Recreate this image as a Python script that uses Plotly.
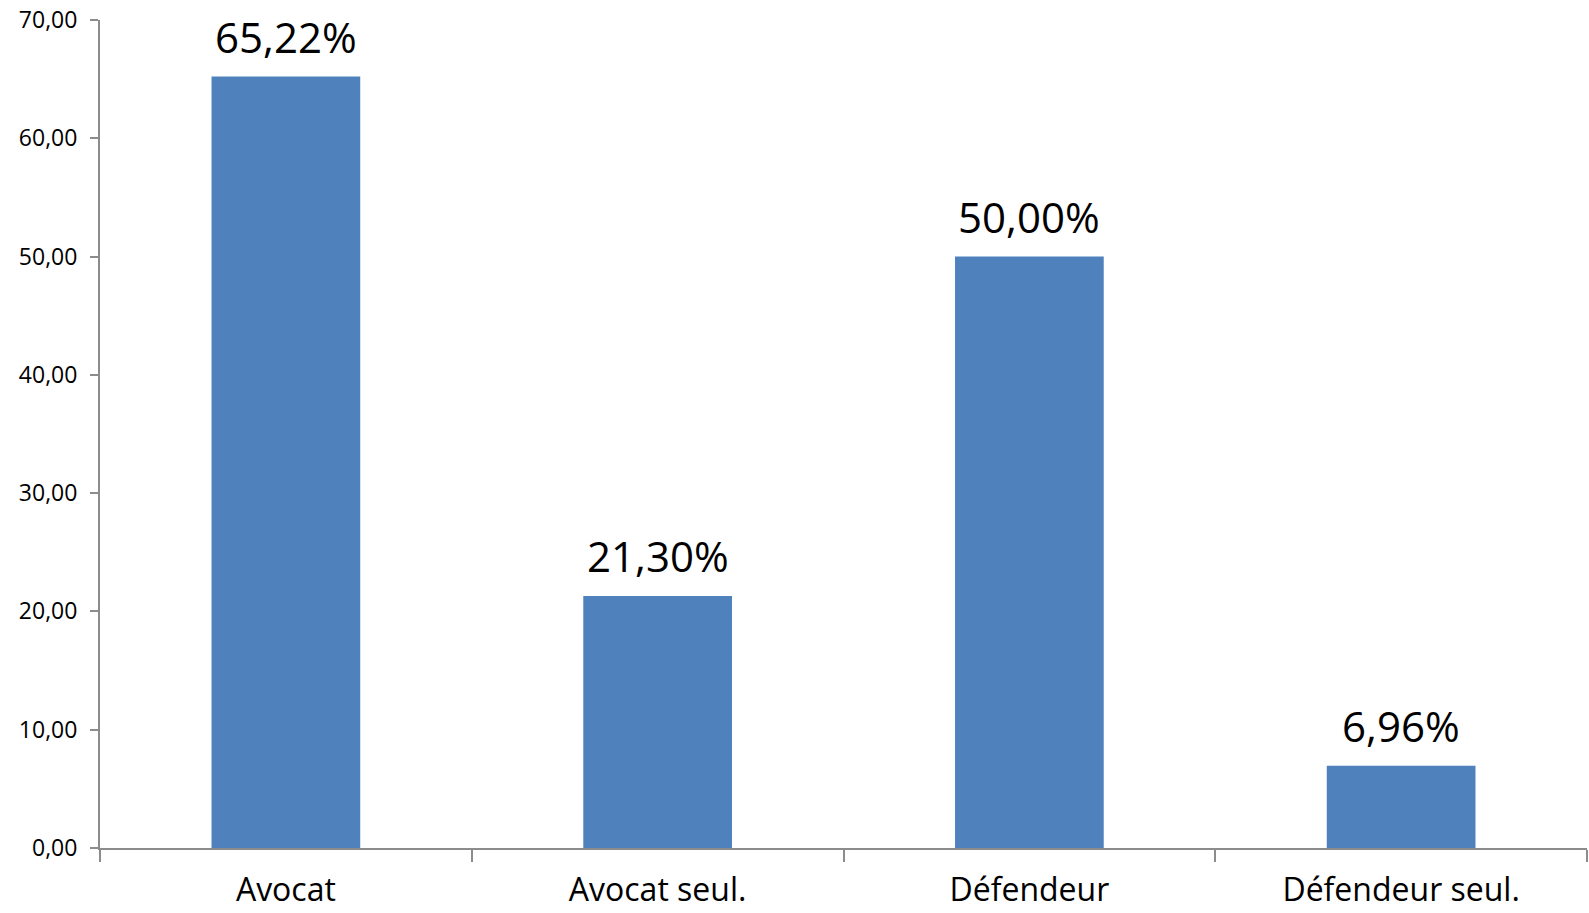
import plotly.graph_objects as go

categories = ["Avocat", "Avocat seul.", "Défendeur", "Défendeur seul."]
values = [65.22, 21.30, 50.00, 6.96]

bar_color = "#4F81BD"
axis_color = "#8C8C8C"
font_family = "Open Sans, Noto Sans, sans-serif"

fig = go.Figure(
    go.Bar(
        x=categories,
        y=values,
        marker=dict(color=bar_color, line=dict(width=0)),
        width=0.4,
        hoverinfo="x+y",
    )
)

# value labels above each bar, formatted with decimal comma
for cat, val in zip(categories, values):
    fig.add_annotation(
        x=cat,
        y=val,
        text=f"{val:.2f}%".replace(".", ","),
        showarrow=False,
        yanchor="bottom",
        yshift=10,
        font=dict(size=42, color="black", family=font_family),
    )

fig.update_layout(
    width=1589,
    height=913,
    margin=dict(l=100, r=2, t=20, b=65),
    plot_bgcolor="white",
    paper_bgcolor="white",
    separators=", ",
    showlegend=False,
    font=dict(family=font_family, color="black"),
)

fig.update_yaxes(
    range=[0, 70],
    dtick=10,
    tickformat=".2f",
    showgrid=False,
    zeroline=False,
    showline=True,
    linecolor=axis_color,
    linewidth=2,
    ticks="outside",
    ticklen=8,
    tickwidth=2,
    tickcolor=axis_color,
    ticklabelstandoff=8,
    tickfont=dict(size=23, color="black"),
    automargin=False,
)

fig.update_xaxes(
    showgrid=False,
    showline=True,
    linecolor=axis_color,
    linewidth=2,
    ticks="outside",
    tickson="boundaries",
    ticklen=12,
    tickwidth=2,
    tickcolor=axis_color,
    ticklabelstandoff=13,
    tickfont=dict(size=32, color="black"),
    automargin=False,
)

fig.write_html("out.html")
